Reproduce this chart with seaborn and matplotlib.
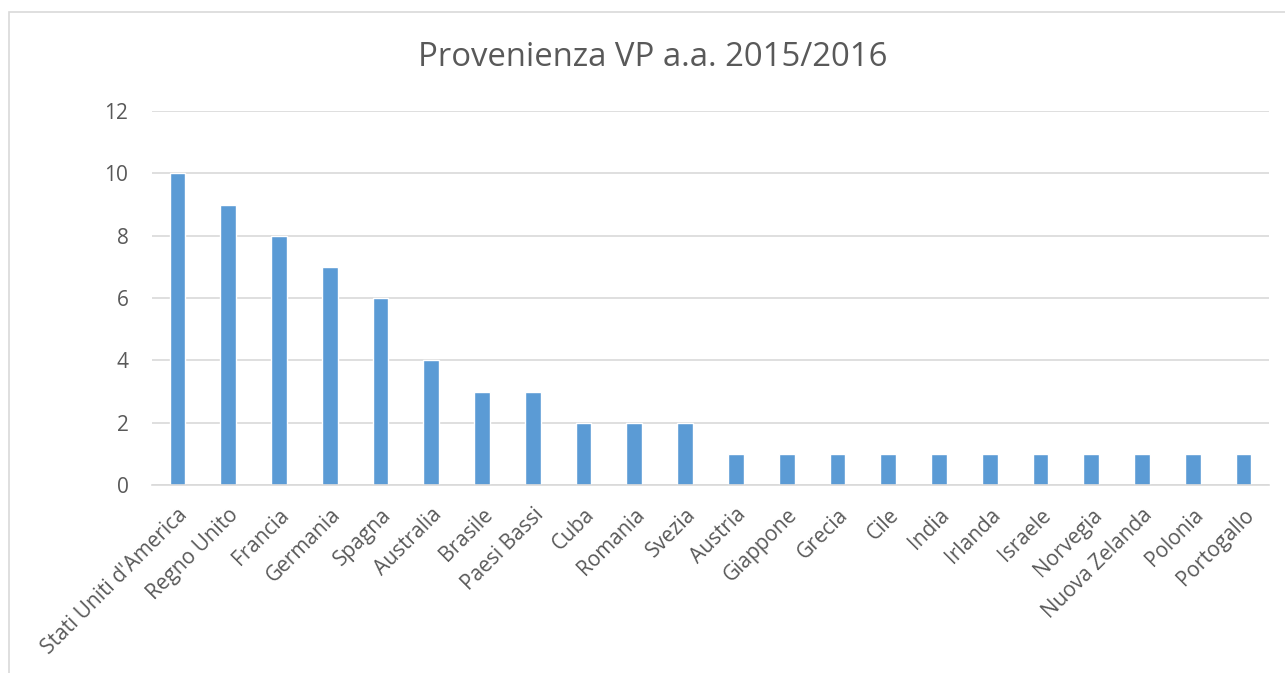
import matplotlib
matplotlib.use("Agg")
import matplotlib.pyplot as plt
import seaborn as sns
import pandas as pd
from matplotlib.patches import Rectangle

countries = ["Stati Uniti d'America", "Regno Unito", "Francia", "Germania", "Spagna",
             "Australia", "Brasile", "Paesi Bassi", "Cuba", "Romania", "Svezia",
             "Austria", "Giappone", "Grecia", "Cile", "India", "Irlanda", "Israele",
             "Norvegia", "Nuova Zelanda", "Polonia", "Portogallo"]
values = [10, 9, 8, 7, 6, 4, 3, 3, 2, 2, 2, 1, 1, 1, 1, 1, 1, 1, 1, 1, 1, 1]
yticks = [0, 2, 4, 6, 8, 10, 12]
title = "Provenienza VP a.a. 2015/2016"

sns.set_theme(style="white")
plt.rcParams['font.family'] = ['Open Sans', 'DejaVu Sans']

df = pd.DataFrame({"Paese": countries, "VP": values})

fig = plt.figure(figsize=(12.85, 6.73), dpi=100)
ax = fig.add_axes([152/1285, 1-485/673, (1269-152)/1285, (485-111)/673])

sns.barplot(data=df, x="Paese", y="VP", color="#5b9bd5", width=0.31,
            saturation=1, ax=ax)

ax.set_ylim(0, 12)
ax.set_yticks(yticks)
ax.set_xlim(-0.5, len(countries) - 0.5)
ax.yaxis.grid(True, color="#d9d9d9", linewidth=1.2)
ax.set_axisbelow(True)
for s in ["left", "right", "top"]:
    ax.spines[s].set_visible(False)
ax.spines["bottom"].set_color("#d9d9d9")
ax.spines["bottom"].set_linewidth(1.2)
ax.set_xlabel("")
ax.set_ylabel("")
ax.tick_params(axis="both", length=0, colors="#595959")
ax.tick_params(axis="y", pad=17, labelsize=15)
ax.tick_params(axis="x", pad=14, labelsize=15)
plt.setp(ax.get_xticklabels(), rotation=45, ha="right", rotation_mode="anchor")
for lbl in ax.get_xticklabels():
    lbl.set_color("#595959")

fig.text(653/1285, 1-57/673, title, ha="center", va="center",
         fontsize=23.7, color="#595959")

fig.patches.append(Rectangle((9/1285, -0.1), 1.2, 1-12/673 + 0.1,
                             transform=fig.transFigure, fill=False,
                             edgecolor="#d9d9d9", linewidth=1.2, figure=fig))

fig.savefig("out.png", dpi=100)
